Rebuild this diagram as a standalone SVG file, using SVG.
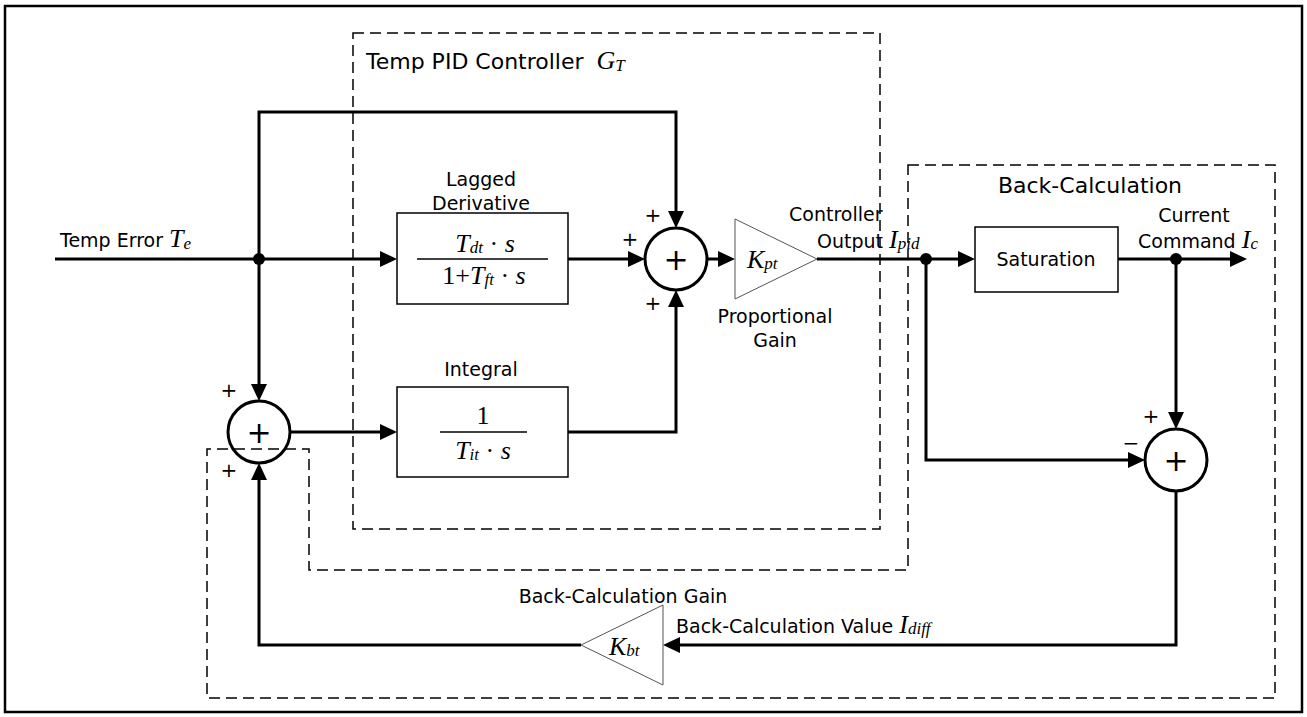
<svg xmlns="http://www.w3.org/2000/svg" width="1307" height="717" viewBox="0 0 1307 717">
<defs>
<style>
.frame{fill:none;stroke:#000;stroke-width:2.5}
.dash{fill:none;stroke:#000;stroke-width:1.5;stroke-dasharray:11 6}
.wire{fill:none;stroke:#000;stroke-width:3;marker-end:url(#ah)}
.box{fill:#fff;stroke:#000;stroke-width:1.5}
.sum{fill:none;stroke:#000;stroke-width:3}
.gain{fill:#fff;stroke:#555;stroke-width:1}
.fl{stroke:#000;stroke-width:1.5}
.lbl{font-family:"DejaVu Sans",sans-serif;font-size:19px;fill:#000}
.ttl{font-family:"DejaVu Sans",sans-serif;font-size:22px;fill:#000}
.math{font-family:"Liberation Serif",serif;font-style:italic;font-size:26px;fill:#000}
.up{font-family:"Liberation Serif",serif;font-style:normal}
.sub{font-size:17px}
.sgn{font-family:"DejaVu Sans",sans-serif;font-size:20px;text-anchor:middle;fill:#000}
.plus{font-family:"DejaVu Sans",sans-serif;font-size:30px;text-anchor:middle;fill:#000}
.mid{text-anchor:middle}
.dot{fill:#000}
</style>
<marker id="ah" markerUnits="userSpaceOnUse" markerWidth="18" markerHeight="16" refX="13" refY="8" orient="auto"><path d="M0,0 L17,8 L0,16 z" fill="#000"/></marker>
</defs>
<rect class="frame" x="5" y="6" width="1297" height="706"/>
<g id="region-pid">
<rect class="dash" x="353" y="33" width="527" height="496"/>
<text class="ttl" x="366" y="69" font-size="23">Temp PID Controller <tspan class="math" dx="6">G<tspan class="sub" dy="2">T</tspan></tspan></text>
</g>
<g id="region-backcalc">
<path class="dash" d="M908,165 H1275 V698 H207 V449 H309 V570 H908 Z"/>
<text class="ttl mid" x="1090" y="193">Back-Calculation</text>
</g>
<g id="connectors">
<path class="wire" d="M55,259 H393"/>
<path class="wire" d="M259,259 V112 H676 V224"/>
<path class="wire" d="M568,259 H641"/>
<path class="wire" d="M707,259 H731"/>
<path class="wire" d="M817,259 H971"/>
<path class="wire" d="M1118,259 H1243"/>
<path class="wire" d="M1176,259 V425"/>
<path class="wire" d="M926,259 V460 H1141"/>
<path class="wire" d="M1176,491 V645 H667"/>
<path class="wire" d="M581,645 H259 V467"/>
<path class="wire" d="M259,259 V397"/>
<path class="wire" d="M290,432 H393"/>
<path class="wire" d="M568,432 H676 V294"/>
<circle class="dot" cx="259" cy="259" r="6"/>
<circle class="dot" cx="926" cy="259" r="6"/>
<circle class="dot" cx="1176" cy="259" r="6"/>
</g>
<g id="input-label">
<text class="lbl" x="60" y="247">Temp Error <tspan class="math">T<tspan class="sub" dy="2">e</tspan></tspan></text>
</g>
<g id="derivative">
<rect class="box" x="397" y="213" width="171" height="91"/>
<text class="lbl mid" x="481" y="186">Lagged</text>
<text class="lbl mid" x="481" y="210">Derivative</text>
<text class="math mid" x="485" y="252">T<tspan class="sub" dy="1">dt</tspan><tspan dy="-1" class="up"> · </tspan>s</text>
<line class="fl" x1="417" y1="259" x2="548" y2="259"/>
<text class="math mid" x="484" y="284"><tspan class="up">1+</tspan>T<tspan class="sub" dy="1">ft</tspan><tspan dy="-1" class="up"> · </tspan>s</text>
</g>
<g id="integral">
<rect class="box" x="397" y="387" width="171" height="90"/>
<text class="lbl mid" x="481" y="376">Integral</text>
<text class="math mid" x="483" y="424"><tspan class="up">1</tspan></text>
<line class="fl" x1="440" y1="432" x2="527" y2="432"/>
<text class="math mid" x="483" y="459">T<tspan class="sub" dy="1">it</tspan><tspan dy="-1" class="up"> · </tspan>s</text>
</g>
<g id="sum-pid">
<circle class="sum" cx="676" cy="259" r="31"/>
<text class="plus" x="676" y="270">+</text>
<text class="sgn" x="653" y="222">+</text>
<text class="sgn" x="630" y="246">+</text>
<text class="sgn" x="653" y="310">+</text>
</g>
<g id="gain-kpt">
<polygon class="gain" points="735,219 735,299 817,259"/>
<text class="math" x="747" y="268">K<tspan class="sub" dy="1">pt</tspan></text>
<text class="lbl mid" x="775" y="323">Proportional</text>
<text class="lbl mid" x="775" y="347">Gain</text>
</g>
<g id="output-label">
<text class="lbl" x="789" y="221">Controller</text>
<text class="lbl" x="817" y="248">Output <tspan class="math">I<tspan class="sub" dy="1">pid</tspan></tspan></text>
</g>
<g id="saturation">
<rect class="box" x="975" y="227" width="143" height="65"/>
<text class="lbl mid" x="1046" y="266">Saturation</text>
</g>
<g id="command-label">
<text class="lbl mid" x="1194" y="222">Current</text>
<text class="lbl" x="1138" y="248">Command <tspan class="math">I<tspan class="sub" dy="1">c</tspan></tspan></text>
</g>
<g id="sum-diff">
<circle class="sum" cx="1176" cy="460" r="31"/>
<text class="plus" x="1176" y="471">+</text>
<text class="sgn" x="1151" y="423">+</text>
<text class="sgn" x="1131" y="450">−</text>
</g>
<g id="gain-kbt">
<polygon class="gain" points="663,605 663,685 581,645"/>
<text class="math" x="609" y="655">K<tspan class="sub" dy="1">bt</tspan></text>
<text class="lbl mid" x="623" y="603">Back-Calculation Gain</text>
<text class="lbl" x="676" y="633">Back-Calculation Value <tspan class="math">I<tspan class="sub" dy="1">diff</tspan></tspan></text>
</g>
<g id="sum-int">
<circle class="sum" cx="259" cy="432" r="31"/>
<text class="plus" x="259" y="443">+</text>
<text class="sgn" x="229" y="397">+</text>
<text class="sgn" x="229" y="477">+</text>
</g>
</svg>
